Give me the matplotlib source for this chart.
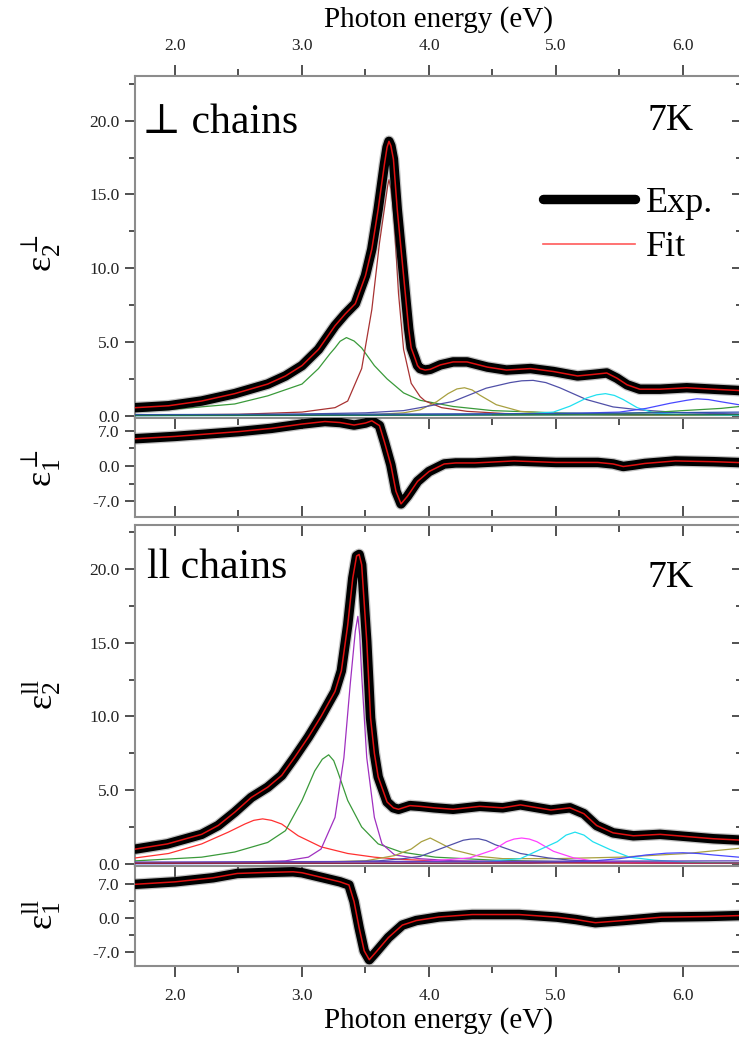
import matplotlib
matplotlib.use("Agg")
import matplotlib.pyplot as plt
from matplotlib.lines import Line2D
from matplotlib.ticker import MultipleLocator, FixedLocator, FormatStrFormatter

plt.rcParams['font.family'] = ['Liberation Serif', 'DejaVu Serif']
plt.rcParams['mathtext.fontset'] = 'custom'
plt.rcParams['mathtext.rm'] = 'Liberation Serif'
plt.rcParams['mathtext.it'] = 'Liberation Serif:italic'
plt.rcParams['axes.unicode_minus'] = False

# ---------------- perpendicular to chains: eps2 ----------------
perp_e2_x = [1.69, 1.95, 2.21, 2.47, 2.73, 2.87, 3.00, 3.13, 3.26, 3.34, 3.42, 3.50,
             3.55, 3.60, 3.65, 3.67, 3.685, 3.70, 3.72, 3.75, 3.80, 3.84, 3.86, 3.89,
             3.91, 3.93, 3.97, 4.01, 4.09, 4.19, 4.30, 4.46, 4.61, 4.80, 4.98, 5.17,
             5.29, 5.40, 5.48, 5.56, 5.66, 5.82, 6.03, 6.24, 6.47]
perp_e2_y = [0.55, 0.68, 1.0, 1.5, 2.15, 2.7, 3.4, 4.5, 6.1, 6.9, 7.6, 9.5,
             11.3, 14.0, 17.1, 18.2, 18.6, 18.3, 17.4, 14.0, 9.5, 5.9, 4.6, 3.9,
             3.4, 3.2, 3.1, 3.15, 3.45, 3.65, 3.65, 3.3, 3.1, 3.2, 3.0, 2.7,
             2.8, 2.9, 2.55, 2.1, 1.8, 1.8, 1.9, 1.8, 1.7]

# oscillator components (perpendicular): (energies, eps2 values, colour)
perp_osc = [
    ([1.69, 2.0, 2.47, 2.73, 3.0, 3.13, 3.22, 3.26, 3.30, 3.35, 3.41, 3.47, 3.52, 3.57, 3.67, 3.80, 3.93,
      4.19, 4.5, 5.0, 5.5, 6.47],
     [0.3, 0.45, 0.8, 1.35, 2.15, 3.2, 4.2, 4.6, 5.05, 5.3, 5.07, 4.6, 4.0, 3.4, 2.5, 1.55, 1.05,
      0.63, 0.35, 0.2, 0.12, 0.08],
     '#3a9a3a'),
    ([1.69, 2.5, 3.0, 3.26, 3.36, 3.47, 3.55, 3.61, 3.66, 3.675, 3.685, 3.70, 3.72, 3.76, 3.80, 3.86,
      3.93, 3.97, 4.1, 4.3, 4.6, 5.0, 6.47],
     [0.05, 0.1, 0.25, 0.55, 1.0, 3.2, 7.2, 11.7, 14.7, 15.6, 16.0, 15.4, 14.0, 8.3, 4.5, 2.2,
      1.3, 1.0, 0.55, 0.3, 0.15, 0.1, 0.05],
     '#a83232'),
    ([1.69, 3.0, 3.3, 3.6, 3.8, 3.93, 4.06, 4.15, 4.22, 4.28, 4.34, 4.40, 4.53, 4.72, 4.9, 5.2, 5.6, 6.47],
     [0.02, 0.04, 0.05, 0.1, 0.2, 0.4, 0.95, 1.5, 1.82, 1.9, 1.75, 1.4, 0.75, 0.3, 0.2, 0.1, 0.05, 0.03],
     '#a8a040'),
    ([1.69, 2.5, 3.0, 3.5, 3.8, 3.93, 4.19, 4.45, 4.64, 4.73, 4.82, 4.92, 5.03, 5.24, 5.45, 5.66, 6.0, 6.47],
     [0.05, 0.08, 0.12, 0.2, 0.35, 0.55, 0.97, 1.87, 2.25, 2.37, 2.4, 2.25, 1.9, 1.1, 0.6, 0.4, 0.2, 0.12],
     '#5050a8'),
    ([1.69, 4.0, 4.7, 4.98, 5.11, 5.24, 5.32, 5.39, 5.46, 5.53, 5.64, 5.77, 5.92, 6.3, 6.47],
     [0.01, 0.03, 0.1, 0.25, 0.65, 1.2, 1.42, 1.5, 1.38, 1.1, 0.55, 0.2, 0.1, 0.05, 0.04],
     '#20e0f0'),
    ([1.69, 4.5, 5.2, 5.5, 5.71, 5.9, 6.03, 6.11, 6.2, 6.3, 6.44],
     [0.02, 0.1, 0.18, 0.25, 0.5, 0.85, 1.05, 1.15, 1.1, 0.95, 0.75],
     '#4848ff'),
    ([4.5, 5.0, 5.5, 5.8, 6.1, 6.3, 6.47],
     [0.08, 0.1, 0.15, 0.25, 0.4, 0.5, 0.65],
     '#3a9a3a'),
    ([1.69, 3.0, 5.0, 6.47], [0.08, 0.1, 0.15, 0.25], '#3050b0'),
    ([1.69, 3.0, 5.0, 6.47], [0.02, 0.03, 0.05, 0.08], '#207050'),
]

# ---------------- perpendicular to chains: eps1 ----------------
perp_e1_x = [1.69, 2.0, 2.5, 2.76, 3.0, 3.18, 3.30, 3.41, 3.50, 3.55, 3.61, 3.65,
             3.70, 3.74, 3.78, 3.83, 3.91, 4.0, 4.12, 4.21, 4.36, 4.67, 5.0, 5.33,
             5.45, 5.53, 5.62, 5.7, 5.94, 6.24, 6.47]
perp_e1_y = [5.4, 5.85, 6.8, 7.45, 8.3, 8.8, 8.6, 8.1, 8.5, 8.95, 8.0, 4.7,
             0.2, -5.0, -7.5, -6.0, -3.05, -1.1, 0.4, 0.6, 0.6, 1.0, 0.7, 0.7,
             0.4, -0.1, 0.2, 0.5, 1.0, 0.85, 0.65]

# ---------------- parallel to chains: eps2 ----------------
par_e2_x = [1.69, 1.94, 2.21, 2.34, 2.47, 2.60, 2.73, 2.84, 2.94, 3.05, 3.15, 3.26,
            3.31, 3.36, 3.40, 3.43, 3.45, 3.47, 3.51, 3.54, 3.57, 3.60, 3.67, 3.72,
            3.76, 3.85, 3.93, 4.04, 4.19, 4.40, 4.58, 4.72, 4.96, 5.11, 5.22, 5.32,
            5.45, 5.61, 5.82, 6.03, 6.24, 6.47]
par_e2_y = [1.0, 1.35, 2.0, 2.6, 3.5, 4.5, 5.2, 6.0, 7.2, 8.6, 10.0, 11.7,
            13.1, 16.2, 19.4, 20.9, 21.0, 20.3, 15.1, 9.9, 7.5, 5.9, 4.2, 3.8,
            3.7, 3.95, 3.9, 3.8, 3.7, 3.9, 3.8, 4.0, 3.65, 3.8, 3.4, 2.6,
            2.1, 1.9, 2.0, 1.85, 1.7, 1.6]

par_osc = [
    ([1.69, 1.95, 2.21, 2.42, 2.55, 2.62, 2.69, 2.76, 2.84, 2.97, 3.15, 3.36, 3.57, 3.78, 4.05, 4.5, 5.0, 6.47],
     [0.4, 0.7, 1.35, 2.15, 2.7, 2.95, 3.05, 2.95, 2.7, 1.9, 1.15, 0.7, 0.45, 0.3, 0.2, 0.12, 0.1, 0.05],
     '#ff3030'),
    ([1.69, 2.21, 2.47, 2.73, 2.87, 3.0, 3.1, 3.16, 3.21, 3.25, 3.28, 3.36, 3.47, 3.60, 3.78, 4.05, 4.5,
      5.0, 6.0, 6.47],
     [0.2, 0.45, 0.8, 1.45, 2.25, 4.3, 6.3, 7.1, 7.4, 7.0, 6.3, 4.3, 2.5, 1.35, 0.8, 0.45, 0.25,
      0.15, 0.1, 0.08],
     '#3a9a3a'),
    ([1.69, 2.5, 2.87, 3.05, 3.15, 3.26, 3.33, 3.38, 3.42, 3.44, 3.455, 3.47, 3.51, 3.57, 3.63, 3.73,
      3.92, 4.2, 5.0, 6.47],
     [0.05, 0.1, 0.2, 0.45, 1.0, 3.15, 7.2, 12.2, 15.8, 16.8, 15.5, 12.8, 7.2, 3.15, 1.35, 0.6,
      0.35, 0.2, 0.1, 0.05],
     '#a030c0'),
    ([1.69, 3.0, 3.5, 3.73, 3.86, 3.94, 4.01, 4.09, 4.19, 4.40, 4.58, 5.0, 5.5, 6.03, 6.44],
     [0.05, 0.1, 0.2, 0.56, 1.0, 1.5, 1.75, 1.4, 0.95, 0.5, 0.35, 0.35, 0.45, 0.7, 1.05],
     '#a8a040'),
    ([1.69, 3.0, 3.6, 3.8, 3.93, 4.13, 4.27, 4.33, 4.39, 4.45, 4.52, 4.72, 4.94, 5.11, 5.5, 6.47],
     [0.03, 0.08, 0.2, 0.35, 0.5, 1.15, 1.6, 1.68, 1.7, 1.58, 1.3, 0.7, 0.4, 0.25, 0.12, 0.06],
     '#5050a8'),
    ([1.69, 3.8, 4.32, 4.51, 4.61, 4.67, 4.73, 4.79, 4.85, 4.98, 5.14, 5.29, 5.6, 6.47],
     [0.01, 0.05, 0.4, 0.95, 1.5, 1.68, 1.75, 1.68, 1.5, 0.85, 0.4, 0.2, 0.08, 0.03],
     '#ff40ff'),
    ([1.69, 4.3, 4.72, 4.87, 5.01, 5.08, 5.15, 5.22, 5.29, 5.43, 5.58, 5.77, 6.03, 6.47],
     [0.01, 0.05, 0.35, 0.95, 1.5, 1.95, 2.15, 1.95, 1.5, 0.95, 0.45, 0.25, 0.1, 0.05],
     '#20e0f0'),
    ([1.69, 4.8, 5.3, 5.5, 5.71, 5.87, 6.0, 6.12, 6.24, 6.44],
     [0.02, 0.05, 0.2, 0.35, 0.6, 0.72, 0.75, 0.7, 0.6, 0.45],
     '#4848ff'),
    ([1.69, 3.0, 5.0, 6.47], [0.12, 0.15, 0.18, 0.2], '#6040c0'),
    ([1.69, 3.0, 5.0, 6.47], [0.04, 0.04, 0.05, 0.05], '#a02020'),
]

# ---------------- parallel to chains: eps1 ----------------
par_e1_x = [1.69, 2.0, 2.3, 2.49, 2.71, 2.93, 3.0, 3.19, 3.3, 3.37, 3.41, 3.45,
            3.49, 3.53, 3.58, 3.68, 3.79, 3.9, 4.08, 4.34, 4.71, 5.01, 5.16, 5.31,
            5.53, 5.83, 6.2, 6.47]
par_e1_y = [7.0, 7.5, 8.35, 9.25, 9.45, 9.6, 9.4, 8.2, 7.5, 6.85, 3.4, -2.05,
            -6.85, -8.7, -7.2, -4.1, -1.5, -0.55, 0.2, 0.7, 0.7, 0.15, -0.35, -1.0,
            -0.55, 0.15, 0.3, 0.5]

x_ticks = [2.0, 3.0, 4.0, 5.0, 6.0]
e2_ticks = [0.0, 5.0, 10.0, 15.0, 20.0]
e1_ticks = [-7.0, 0.0, 7.0]

SPINE = '#8c8c8c'
TICKC = '#222222'
TFS = 12.5

fig = plt.figure(figsize=(7.39, 10.39), dpi=100)
L, W = 135 / 739, 607 / 739
axA = fig.add_axes([L, 0.5977, W, 0.3287])
axB = fig.add_axes([L, 0.5024, W, 0.0953])
axC = fig.add_axes([L, 0.1665, W, 0.3282])
axD = fig.add_axes([L, 0.0703, W, 0.0962])


def exp_curve(ax, x, y):
    ax.plot(x, y, color='#6a6a6a', lw=8.6, alpha=0.4, solid_joinstyle='round',
            solid_capstyle='round', zorder=4)
    ax.plot(x, y, color='black', lw=6.8, solid_joinstyle='round',
            solid_capstyle='round', zorder=5)
    ax.plot(x, y, color='#e01010', lw=1.1, zorder=6)


def style(ax, top, bottom, yticks, yminor, ylim):
    ax.set_xlim(1.685, 6.465)
    ax.set_ylim(*ylim)
    for s in ax.spines.values():
        s.set_color(SPINE)
        s.set_linewidth(1.5)
    ax.xaxis.set_major_locator(FixedLocator(x_ticks))
    ax.xaxis.set_minor_locator(MultipleLocator(0.5))
    ax.yaxis.set_major_locator(FixedLocator(yticks))
    ax.yaxis.set_minor_locator(FixedLocator(yminor))
    ax.xaxis.set_major_formatter(FormatStrFormatter('%.1f'))
    ax.yaxis.set_major_formatter(FormatStrFormatter('%.1f'))
    ax.tick_params(axis='y', which='both', left=True, right=True, direction='out',
                   colors=TICKC, labelsize=TFS, width=1.1, pad=4)
    ax.tick_params(axis='y', which='major', length=7)
    ax.tick_params(axis='y', which='minor', length=4)
    # right-side ticks point inward
    for t in ax.yaxis.get_major_ticks() + ax.yaxis.get_minor_ticks():
        t.tick2line.set_marker(matplotlib.lines.TICKLEFT)
    ax.tick_params(axis='x', which='both', colors=TICKC, labelsize=TFS, width=1.1)
    ax.tick_params(axis='x', which='major', length=8)
    ax.tick_params(axis='x', which='minor', length=5)
    ax.tick_params(axis='x', which='both', top=top != 'none', bottom=bottom != 'none',
                   labeltop=top == 'out', labelbottom=bottom == 'out', pad=8)
    for t in ax.xaxis.get_major_ticks() + ax.xaxis.get_minor_ticks():
        t.tick1line.set_marker(matplotlib.lines.TICKDOWN if bottom == 'out' else matplotlib.lines.TICKUP)
        t.tick2line.set_marker(matplotlib.lines.TICKUP if top == 'out' else matplotlib.lines.TICKDOWN)


e2_minor = [2.5, 7.5, 12.5, 17.5, 22.5]
e1_minor = [-3.5, 3.5]

for ax, osc, x, y in [(axA, perp_osc, perp_e2_x, perp_e2_y), (axC, par_osc, par_e2_x, par_e2_y)]:
    for ox, oy, c in osc:
        ax.plot(ox, oy, color=c, lw=0.9, zorder=3)
    exp_curve(ax, x, y)

exp_curve(axB, perp_e1_x, perp_e1_y)
exp_curve(axD, par_e1_x, par_e1_y)

style(axA, 'out', 'none', e2_ticks, e2_minor, (-0.15, 23.0))
style(axB, 'in', 'in', e1_ticks, e1_minor, (-10.1, 9.5))
style(axC, 'in', 'none', e2_ticks, e2_minor, (-0.15, 23.0))
style(axD, 'in', 'out', e1_ticks, e1_minor, (-10.0, 10.8))

axA.xaxis.set_label_position('top')
axA.set_xlabel('Photon energy (eV)', fontsize=21, labelpad=8)
axD.set_xlabel('Photon energy (eV)', fontsize=21, labelpad=2)

# panel annotations
axA.text(0.012, 0.835, '\u22a5 chains', transform=axA.transAxes, fontsize=30,
         family=['Liberation Serif', 'DejaVu Serif'], va='baseline', ha='left')
axA.text(0.8435, 0.843, '7K', transform=axA.transAxes, fontsize=27, va='baseline', ha='left')
axC.text(0.02, 0.845, 'll chains', transform=axC.transAxes, fontsize=30, va='baseline', ha='left')
axC.text(0.8435, 0.818, '7K', transform=axC.transAxes, fontsize=27, va='baseline', ha='left')

handles = [Line2D([], [], color='black', lw=6.8, solid_capstyle='round'),
           Line2D([], [], color='#ff5a5a', lw=1.2)]
axA.legend(handles, ['Exp.', 'Fit'], loc='upper left', bbox_to_anchor=(0.672, 0.677),
           frameon=False, handlelength=2.55, handletextpad=0.3, labelspacing=0.3,
           borderaxespad=0, borderpad=0, fontsize=26)

# y-axis labels
ylab = dict(rotation=90, ha='center', va='center', fontsize=26)
fig.text(42 / 739, 1 - 253 / 1039, r'$\mathrm{ε}_{2}^{\perp}$', **ylab)
fig.text(42 / 739, 1 - 468 / 1039, r'$\mathrm{ε}_{1}^{\perp}$', **ylab)
fig.text(42 / 739, 1 - 695 / 1039, r'$\mathrm{ε}_{2}^{\mathrm{ll}}$', **ylab)
fig.text(42 / 739, 1 - 915 / 1039, r'$\mathrm{ε}_{1}^{\mathrm{ll}}$', **ylab)

fig.savefig('out.png', dpi=100)
